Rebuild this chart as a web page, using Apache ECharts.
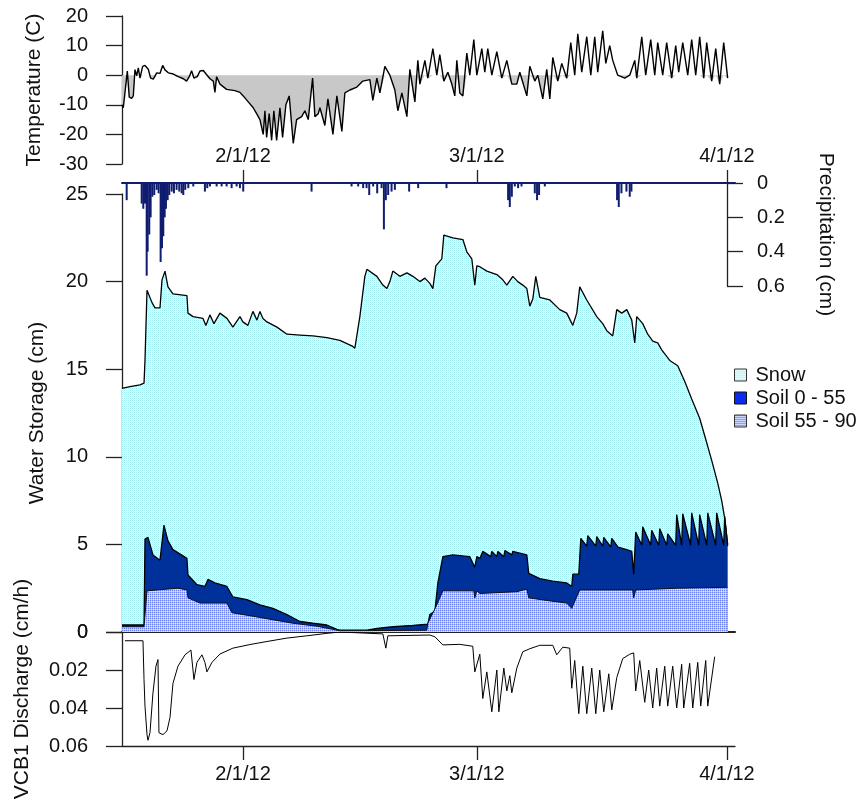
<!DOCTYPE html>
<html>
<head>
<meta charset="utf-8">
<script src="https://cdn.jsdelivr.net/npm/echarts@6.0.0/dist/echarts.min.js"></script>
<style>
html,body{margin:0;padding:0;background:#fff;}
#chart{width:862px;height:801px;}
</style>
</head>
<body>
<div id="chart"></div>
<script>
// x values: day of year 2012 (Jan 1 = 1, Feb 1 = 32, Mar 1 = 61, Apr 1 = 92)
const dateTicks = [32, 61, 92];
const dateLabels = ['2/1/12', '3/1/12', '4/1/12'];

const tempDay = [17.0,17.16,17.66,17.9,18.2,18.4,18.61,18.82,19.02,19.23,19.56,19.85,20.26,20.55,20.88,21.3,21.71,22.04,22.33,22.74,23.36,23.98,24.6,25.01,25.34,25.63,25.92,26.33,26.67,27.08,27.57,27.9,28.32,28.52,28.73,29.14,29.97,31.0,31.62,
32.03,32.65,33.27,33.69,34.1,34.51,34.72,34.93,35.25,35.55,35.83,36.17,36.58,36.91,37.32,37.73,38.23,38.65,39.27,39.68,40.09,40.63,40.92,41.33,
41.54,42.15,42.53,43.15,43.64,44.26,44.63,45.25,46.12,46.86,47.73,48.1,48.6,48.97,49.59,50.21,50.83,51.2,51.7,52.32,52.69,53.31,53.68,53.93,54.55,54.92,55.54,56.03,56.4,56.9,57.4,57.89,58.26,58.51,58.88,59.26,59.75,60.12,60.62,60.99,61.61,61.98,62.35,62.85,63.47,64.09,64.71,65.33,65.95,66.32,
67.19,67.56,68.18,68.55,69.17,69.66,70.04,70.41,71.03,71.52,72.14,72.64,73.13,73.51,74.0,74.62,75.12,75.61,75.98,76.6,76.98,77.47,77.84,78.46,79.33,79.95,80.57,80.82,81.44,81.93,82.55,83.05,83.42,84.04,84.53,85.15,85.65,86.02,86.52,87.14,87.63,88.13,88.62,89.12,89.49,90.11,90.61,91.1,91.6,92.09];
const tempC = [-10,-11,1.4,-7.4,-7.8,-7,1.9,-0.2,2.5,-1,3,3.3,2,-1,-1.3,0.8,0.6,3.3,1.8,0.8,0.4,-0.5,-1.2,-2,-0.5,1.5,-1,-0.5,1.4,1.6,-0.1,-1.2,-2,-5.8,-0.5,-3,-4.8,-5.2,-5.8,
-7,-9,-11,-13,-15,-20,-12,-21,-13,-22,-12,-22,-11,-21,-10,-7,-23,-15,-14,-12,-15,-1,-14,-13,
-11,-17,-8,-20,-7,-19,-6,-5,-4,-2,-1.5,-8.5,-1,-6,3,0,-5,-12,-6,-14,2,-9,5,-3,5,-1,9,0,7,-2,1,-3,-7,5,-6,-7,7.5,0,12,0,9,1,9,0,8,-1,5,-3,-3,1,
-7,3,-2,0,-8,2,-8,6,-2,4,-1,11,0,14,1,13,0,13,1,15,4,10,5,0,-1,0,5,-1,13,0,12,0,11,0,11,-1,10,1,11,0,12,0,13,-1,11,-2,9,-3,11,-1];

const precipDay = [17.58,19.44,19.64,19.85,20.06,20.18,20.38,20.55,20.76,21.0,21.3,21.54,21.79,21.96,22.12,22.29,22.45,22.66,22.86,23.16,23.44,23.77,24.1,24.39,24.6,24.84,25.22,25.84,27.28,27.57,27.9,28.73,29.35,29.97,30.59,31.21,31.62,32.03,40.5,45.46,46.28,46.9,47.32,47.65,48.14,48.64,49.18,49.47,49.71,50.0,50.42,50.83,52.6,53.72,57.23,64.87,65.08,65.33,65.7,66.11,66.53,68.18,68.46,68.71,69.42,78.38,78.59,78.92,79.54,79.95,80.16];
const precipCm = [0.10,0.12,0.15,0.12,0.54,0.40,0.30,0.20,0.08,0.07,0.04,0.06,0.46,0.38,0.31,0.20,0.15,0.10,0.07,0.05,0.06,0.04,0.05,0.06,0.07,0.04,0.03,0.02,0.05,0.03,0.02,0.02,0.02,0.02,0.03,0.02,0.03,0.05,0.05,0.02,0.02,0.03,0.03,0.07,0.02,0.06,0.03,0.27,0.10,0.07,0.05,0.04,0.05,0.03,0.03,0.10,0.14,0.08,0.02,0.03,0.02,0.06,0.10,0.07,0.02,0.10,0.14,0.06,0.05,0.08,0.05];

// top of snow layer (total water storage)
const totalDay = [17.0,17.99,19.23,19.73,19.85,20.1,20.22,20.72,21.09,21.71,21.96,22.33,22.7,23.32,25.05,25.18,25.8,27.04,27.4,27.9,28.4,29.14,30.01,30.75,31.62,31.99,32.61,33.23,33.73,34.1,34.47,34.97,36.21,37.45,39.06,40.67,42.4,44.01,45.62,45.87,46.49,47.11,47.36,48.6,49.34,49.84,50.21,50.58,51.45,52.32,53.06,53.93,54.55,55.17,55.54,55.91,56.65,56.9,58.02,59.26,59.75,60.37,60.74,60.99,61.36,62.23,63.47,64.21,64.71,65.45,66.07,66.69,67.19,67.56,67.93,68.3,68.8,70.04,71.27,72.14,72.89,73.38,73.75,74.62,75.86,76.6,77.1,77.84,78.34,78.96,79.58,80.2,80.57,80.82,81.56,82.18,82.8,83.42,83.91,84.41,84.91,85.9,86.77,87.63,88.62,89.37,90.11,90.86,91.35,91.72,91.97,92.09];
const totalCm = [13.9,14.0,14.1,14.2,15.5,19.5,19.4,18.8,18.5,18.5,20.1,20.6,19.7,19.3,19.2,18.2,18.0,17.9,17.5,18.1,17.6,18.2,17.9,17.4,18.0,17.7,17.5,18.3,17.8,18.3,17.9,17.7,17.4,17.0,16.95,16.9,16.8,16.65,16.3,16.2,18.0,20.3,20.7,20.3,19.8,19.6,20.0,20.6,20.3,20.5,20.3,20.0,20.2,19.9,19.6,20.9,21.3,22.65,22.5,22.4,21.7,21.3,19.8,20.9,20.85,20.6,20.4,20.1,19.8,20.3,20.0,19.8,19.6,18.6,19.0,20.3,19.1,18.95,18.4,18.2,17.5,18.2,19.7,18.95,18.0,17.6,17.2,16.9,18.4,18.2,18.4,17.8,16.5,18.0,17.6,17.0,16.6,16.5,16.1,15.8,15.5,15.2,14.3,13.3,12.2,11.0,9.8,8.5,7.5,6.5,5.5,5.0];

// top of soil 0 - 55 layer (soil total)
const soilDay = [17.0,19.73,19.85,20.22,20.84,21.71,22.2,22.7,23.32,25.05,25.18,26.29,27.28,27.66,28.52,30.01,30.75,32.49,34.1,35.71,37.45,39.06,40.67,42.4,43.64,44.01,47.36,48.6,50.58,53.06,54.92,55.17,55.79,56.16,56.78,58.02,60.12,60.74,60.99,61.36,61.73,62.72,62.85,63.47,63.6,64.34,64.47,65.33,65.45,67.19,67.43,68.8,70.41,72.14,72.76,72.89,73.63,73.88,74.0,74.62,74.75,75.74,75.86,76.6,76.73,77.6,77.72,78.5,79.58,80.2,80.44,80.69,81.44,81.56,82.55,82.67,83.55,83.67,84.53,84.66,85.65,85.77,86.39,86.52,87.5,87.63,88.5,88.62,89.5,89.62,90.6,90.73,91.6,91.72,92.09];
const soilCm = [0.4,0.4,5.3,5.4,4.4,4.1,6.1,5.2,4.7,4.2,3.25,2.7,2.6,3.0,2.8,2.6,2.0,1.85,1.55,1.35,1.0,0.6,0.5,0.4,0.15,0.1,0.1,0.2,0.3,0.37,0.45,1.0,1.2,2.8,4.3,4.4,4.3,3.7,4.3,4.2,4.6,4.3,4.6,4.3,4.6,4.3,4.65,4.4,4.6,4.4,3.35,3.05,2.9,2.8,2.6,3.3,3.3,5.35,5.45,4.9,5.5,4.9,5.45,4.9,5.4,4.85,5.35,4.85,4.7,4.6,3.3,5.7,4.95,6.0,4.95,5.8,4.95,5.9,4.95,5.6,4.95,6.7,4.95,6.75,4.95,6.8,4.95,6.7,4.95,6.8,4.95,6.8,4.95,6.6,4.9];

// top of soil 55 - 90 layer
const deepDay = [17.0,19.73,20.1,23.94,25.05,25.18,26.67,30.01,30.63,33.23,35.71,38.19,41.16,43.15,44.01,54.79,54.92,56.03,56.78,60.62,60.74,60.99,61.36,65.95,67.19,67.43,69.66,72.14,72.76,73.75,80.32,80.44,80.69,85.9,92.09];
const deepCm = [0.3,0.3,2.35,2.5,2.4,1.95,1.65,1.65,1.1,0.9,0.7,0.5,0.33,0.15,0.07,0.1,0.5,1.55,2.35,2.35,1.95,2.35,2.2,2.3,2.45,1.95,1.8,1.65,1.35,2.4,2.4,1.95,2.4,2.5,2.55];

const qDay = [17.37,19.6,19.73,19.85,20.1,20.22,20.47,20.84,21.21,21.46,21.58,22.08,22.58,22.95,23.32,23.94,24.81,25.55,25.92,26.29,26.91,27.28,27.53,28.15,29.14,30.75,32.86,34.97,37.45,39.92,42.4,44.01,49.34,49.71,49.96,55.17,55.79,56.78,58.88,60.49,60.74,61.36,61.73,62.23,62.85,63.47,63.72,64.34,64.71,65.08,65.33,65.95,66.69,67.56,68.8,70.41,70.9,71.65,72.51,72.76,73.13,73.63,74.13,74.62,75.24,75.74,76.23,76.73,77.35,77.72,78.34,79.08,79.95,80.44,80.69,81.19,81.81,82.3,82.8,83.29,83.67,84.29,84.66,85.28,85.77,86.39,86.64,87.38,87.76,88.38,88.75,89.37,89.62,90.48];
const qCmH = [0.0046,0.0046,0.025,0.039,0.054,0.057,0.053,0.032,0.018,0.0145,0.053,0.054,0.052,0.045,0.027,0.018,0.012,0.0095,0.025,0.016,0.012,0.016,0.021,0.016,0.0116,0.0085,0.0066,0.005,0.0032,0.002,0.0007,0.0,0.001,0.0085,0.002,0.0016,0.0025,0.0068,0.0065,0.0075,0.021,0.0117,0.035,0.021,0.042,0.020,0.042,0.019,0.031,0.023,0.032,0.019,0.0104,0.0088,0.007,0.007,0.012,0.008,0.0085,0.0296,0.015,0.043,0.018,0.043,0.019,0.043,0.020,0.042,0.022,0.041,0.024,0.014,0.0117,0.011,0.031,0.015,0.037,0.020,0.040,0.019,0.039,0.018,0.039,0.018,0.040,0.017,0.040,0.0165,0.040,0.016,0.039,0.015,0.039,0.013];

function pairs(xs, ys) { return xs.map((x, i) => [x, ys[i]]); }
function makePattern(c00, c10, c01, c11) {
  const c = document.createElement('canvas');
  c.width = 2; c.height = 2;
  const g = c.getContext('2d');
  g.fillStyle = c00; g.fillRect(0, 0, 1, 1);
  g.fillStyle = c10; g.fillRect(1, 0, 1, 1);
  g.fillStyle = c01; g.fillRect(0, 1, 1, 1);
  g.fillStyle = c11; g.fillRect(1, 1, 1, 1);
  return c;
}
const snowPat = { image: makePattern('#9eedf0', '#f0fdfd', '#f0fdfd', '#cdf6f6'), repeat: 'repeat' };
const deepPat = { image: makePattern('#6a7ff4', '#b8c4fa', '#b8c4fa', '#dfe4fd'), repeat: 'repeat' };

const FONT = 'Liberation Sans, Arial, sans-serif';
const TXT = '#111';
const AX = '#222';
const NAVY = '#101c70';
const dateFmt = v => { const i = dateTicks.indexOf(Math.round(v)); return i >= 0 ? dateLabels[i] : ''; };

const gridL = 122, gridW = 613;
const chart = echarts.init(document.getElementById('chart'), null, { renderer: 'canvas' });

function xAxisDef(extra) {
  return Object.assign({ type: 'value', min: 17, max: 93, splitLine: { show: false } }, extra);
}
function leftY(extra, name, gap) {
  return Object.assign({
    type: 'value', position: 'left', splitLine: { show: false },
    axisLine: { show: true, onZero: false, lineStyle: { color: AX, width: 1.3 } },
    axisTick: { show: true, length: 16, lineStyle: { color: AX, width: 1.3 } },
    axisLabel: { color: TXT, fontSize: 20, fontFamily: FONT, margin: 34, align: 'right' },
    name: name, nameLocation: 'middle', nameRotate: 90, nameGap: gap, nameMoveOverlap: false,
    nameTextStyle: { color: TXT, fontSize: 21, fontFamily: FONT }
  }, extra);
}
function gridDef(top, height) {
  return { left: gridL, top: top, width: gridW, height: height, containLabel: false, outerBoundsMode: 'none' };
}

chart.setOption({
  animation: false,
  backgroundColor: '#fff',
  textStyle: { fontFamily: FONT },
  grid: [gridDef(16, 148), gridDef(183, 103), gridDef(194, 438), gridDef(632, 114)],
  xAxis: [
    xAxisDef({ gridIndex: 0, show: false }),
    xAxisDef({
      gridIndex: 1, position: 'top',
      axisLine: { show: true, onZero: false, lineStyle: { color: NAVY, width: 2 } },
      axisTick: { show: true, customValues: dateTicks, length: 13, lineStyle: { color: AX, width: 1.3 } },
      axisLabel: { show: true, customValues: dateTicks, formatter: dateFmt, color: TXT, fontSize: 20, fontFamily: FONT, margin: 17 }
    }),
    xAxisDef({
      gridIndex: 2, position: 'bottom',
      axisLine: { show: true, onZero: false, lineStyle: { color: AX, width: 2 } },
      axisTick: { show: false }, axisLabel: { show: false }
    }),
    xAxisDef({
      gridIndex: 3, position: 'bottom',
      axisLine: { show: true, onZero: false, lineStyle: { color: AX, width: 1.3 } },
      axisTick: { show: true, customValues: dateTicks, length: 14, lineStyle: { color: AX, width: 1.3 } },
      axisLabel: { show: true, customValues: dateTicks, formatter: dateFmt, color: TXT, fontSize: 20, fontFamily: FONT, margin: 18 }
    })
  ],
  yAxis: [
    leftY({ gridIndex: 0, min: -30, max: 20, interval: 10 }, 'Temperature (C)', 77),
    {
      type: 'value', gridIndex: 1, position: 'right', offset: -8, inverse: true,
      min: 0, max: 0.6, interval: 0.2, splitLine: { show: false },
      axisLine: { show: true, onZero: false, lineStyle: { color: AX, width: 1.3 } },
      axisTick: { show: true, length: 16, lineStyle: { color: AX, width: 1.3 } },
      axisLabel: { color: TXT, fontSize: 20, fontFamily: FONT, margin: 30 },
      name: 'Precipitation (cm)', nameLocation: 'middle', nameRotate: -90, nameGap: 88, nameMoveOverlap: false,
      nameTextStyle: { color: TXT, fontSize: 21, fontFamily: FONT }
    },
    leftY({ gridIndex: 2, min: 0, max: 25, interval: 5 }, 'Water Storage (cm)', 74),
    leftY({ gridIndex: 3, min: 0, max: 0.06, interval: 0.02, inverse: true }, 'VCB1 Discharge (cm/h)', 89)
  ],
  legend: {
    orient: 'vertical', left: 729, top: 360, itemWidth: 12, itemHeight: 12, itemGap: 3,
    icon: 'rect',
    textStyle: { color: TXT, fontSize: 20, fontFamily: FONT, lineHeight: 20, padding: [0, 0, 0, 4] },
    data: [
      { name: 'Snow', itemStyle: { color: snowPat, borderColor: '#333', borderWidth: 1 } },
      { name: 'Soil 0 - 55', itemStyle: { color: '#0a2cf0', borderColor: '#111', borderWidth: 1 } },
      { name: 'Soil 55 - 90', itemStyle: { color: deepPat, borderColor: '#333', borderWidth: 1 } }
    ]
  },
  series: [
    {
      name: 'TempFill', type: 'line', xAxisIndex: 0, yAxisIndex: 0, z: 1,
      data: pairs(tempDay, tempC.map(v => Math.min(v, 0))),
      showSymbol: false, lineStyle: { width: 0, opacity: 0 },
      areaStyle: { color: '#c8c8c8', opacity: 1 }
    },
    {
      name: 'Temperature', type: 'line', xAxisIndex: 0, yAxisIndex: 0, z: 2,
      data: pairs(tempDay, tempC), showSymbol: false,
      lineStyle: { color: '#000', width: 1.4 }
    },
    {
      name: 'Precipitation', type: 'bar', xAxisIndex: 1, yAxisIndex: 1, z: 5,
      data: pairs(precipDay, precipCm), barWidth: 2,
      itemStyle: { color: NAVY }
    },
    {
      name: 'Snow', type: 'line', xAxisIndex: 2, yAxisIndex: 2, z: 2,
      data: pairs(totalDay, totalCm), showSymbol: false,
      lineStyle: { color: '#000', width: 1.3 },
      itemStyle: { color: snowPat },
      areaStyle: { color: snowPat, opacity: 1 }
    },
    {
      name: 'Soil 0 - 55', type: 'line', xAxisIndex: 2, yAxisIndex: 2, z: 3,
      data: pairs(soilDay, soilCm), showSymbol: false,
      lineStyle: { color: '#000', width: 1.3 },
      itemStyle: { color: '#00309a' },
      areaStyle: { color: '#00309a', opacity: 1 }
    },
    {
      name: 'Soil 55 - 90', type: 'line', xAxisIndex: 2, yAxisIndex: 2, z: 4,
      data: pairs(deepDay, deepCm), showSymbol: false,
      lineStyle: { color: '#111', width: 1 },
      itemStyle: { color: deepPat },
      areaStyle: { color: deepPat, opacity: 1 }
    },
    {
      name: 'Discharge', type: 'line', xAxisIndex: 3, yAxisIndex: 3, z: 2,
      data: pairs(qDay, qCmH), showSymbol: false,
      lineStyle: { color: '#000', width: 1 }
    }
  ]
});
</script>
</body>
</html>
